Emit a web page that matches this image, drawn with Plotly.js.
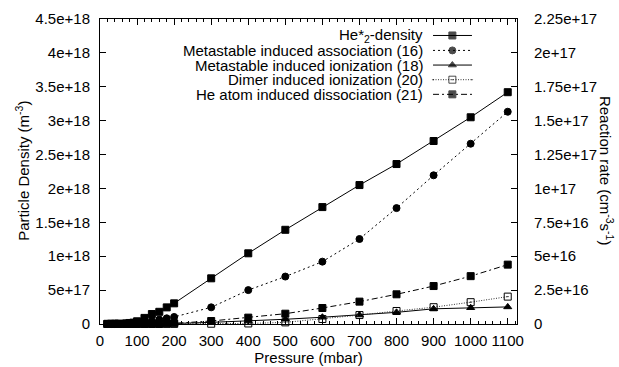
<!DOCTYPE html>
<html>
<head>
<meta charset="utf-8">
<script src="https://cdn.plot.ly/plotly-3.0.1.min.js"></script>
<style>html,body{margin:0;padding:0;background:#fff;}#chart{width:619px;height:367px;}</style>
</head>
<body>
<div id="chart"></div>
<script>
// ---- data ----
const pressure = [20,30,40,50,70,80,90,100,120,140,160,180,200,300,400,500,600,700,800,900,1000,1100];
// He*2 density, units 1e18 m^-3 (left axis)
const he2Density = [0.003,0.004,0.005,0.006,0.01,0.015,0.02,0.04,0.09,0.147,0.18,0.245,0.305,0.674,1.043,1.39,1.725,2.05,2.36,2.70,3.05,3.42];
// reaction rates, units 1e17 cm^-3 s^-1 (right axis)
const assoc16 = [0,0,0,0,0.002,0.003,0.005,0.008,0.015,0.024,0.033,0.042,0.052,0.123,0.25,0.35,0.46,0.627,0.855,1.097,1.33,1.566];
const ioniz18 = [0,0,0,0,0,0,0,0.001,0.001,0.002,0.002,0.003,0.004,0.012,0.022,0.035,0.05,0.066,0.086,0.112,0.12,0.126];
const dimer20 = [0,0,0,0,0,0,0,0,0,0,0,0.001,0.001,0.002,0.004,0.012,0.037,0.066,0.096,0.124,0.161,0.202];
const heAtom21 = [0,0,0,0,0,0,0,0.001,0.001,0.002,0.003,0.004,0.005,0.022,0.047,0.076,0.118,0.165,0.219,0.28,0.353,0.438];

const seriesNames = ["He*<sub>2</sub>-density","Metastable induced association (16)","Metastable induced ionization (18)","Dimer induced ionization (20)","He atom induced dissociation (21)"];

const leftTickVals = [0,0.5e18,1e18,1.5e18,2e18,2.5e18,3e18,3.5e18,4e18,4.5e18];
const leftTickText = ["0","5e+17","1e+18","1.5e+18","2e+18","2.5e+18","3e+18","3.5e+18","4e+18","4.5e+18"];
const rightTickVals = [0,2.5e16,5e16,7.5e16,1e17,1.25e17,1.5e17,1.75e17,2e17,2.25e17];
const rightTickText = ["0","2.5e+16","5e+16","7.5e+16","1e+17","1.25e+17","1.5e+17","1.75e+17","2e+17","2.25e+17"];
const xTickVals = [0,100,200,300,400,500,600,700,800,900,1000,1100];

// ---- styles ----
const FONT = "Liberation Sans, Arial, Helvetica, sans-serif";
const FS = 15;
const styles = [
  {dash:"solid", color:"#000", sym:"square", size:7, yaxis:"y", scale:1e18, data:he2Density},
  {dash:"2px,3px", color:"#000", sym:"circle", size:7, yaxis:"y2", scale:1e17, data:assoc16},
  {dash:"solid", color:"#000", sym:"triangle-up", size:7, yaxis:"y2", scale:1e17, data:ioniz18},
  {dash:"1px,1.5px", color:"#333", sym:"square-open-dot", size:7, yaxis:"y2", scale:1e17, data:dimer20},
  {dash:"6px,3px,2px,3px", color:"#000", sym:"square", size:7, yaxis:"y2", scale:1e17, data:heAtom21}
];

const traces = styles.map((s,i)=>({
  type:"scatter", mode:"lines+markers", name:seriesNames[i],
  x:pressure, y:s.data.map(v=>v*s.scale), yaxis:s.yaxis, xaxis:"x",
  line:{color:s.color, width:1, dash:s.dash},
  marker:{symbol:s.sym, size:s.size, color:"#000", line:{color:"#000", width:1}},
  showlegend:false, cliponaxis:false
}));

// ---- custom gnuplot-style legend (text right, sample left) ----
const legRowY = [0.946,0.897,0.849,0.801,0.753];
const legX0 = 0.7986, legX1 = 0.892, legXM = 0.845, legTextX = 0.779;
const annotations = [];
styles.forEach((s,i)=>{
  traces.push({
    type:"scatter", mode:"lines+markers", xaxis:"x2", yaxis:"y3",
    x:[legX0,legXM,legX1], y:[legRowY[i],legRowY[i],legRowY[i]],
    line:{color:s.color, width:1, dash:s.dash},
    marker:{symbol:s.sym, size:[0,s.size,0], color:"#000", line:{color:"#000", width:1}},
    showlegend:false, hoverinfo:"skip", cliponaxis:false
  });
  annotations.push({xref:"paper", yref:"paper", x:legTextX, y:legRowY[i], xanchor:"right", yanchor:"middle",
    text:seriesNames[i], showarrow:false, font:{family:FONT, size:FS, color:"#000"}});
});
annotations.push({xref:"paper", yref:"paper", x:-0.185, y:0.502, textangle:-90, xanchor:"center", yanchor:"middle",
  text:"Particle Density (m<sup>-3</sup>)", showarrow:false, font:{family:FONT, size:FS, color:"#000"}});
annotations.push({xref:"paper", yref:"paper", x:1.2134, y:0.502, textangle:90, xanchor:"center", yanchor:"middle",
  text:"Reaction rate (cm<sup>-3</sup>s<sup>-1</sup>)", showarrow:false, font:{family:FONT, size:FS, color:"#000"}});

const layout = {
  width:619, height:367,
  margin:{l:100, r:102, t:19, b:43, pad:0},
  paper_bgcolor:"#fff", plot_bgcolor:"#fff",
  font:{family:FONT, size:FS, color:"#000"},
  showlegend:false,
  xaxis:{range:[0,1125], tickvals:xTickVals, ticktext:xTickVals.map(String),
    ticks:"inside", ticklen:6, tickwidth:1, tickcolor:"#000",
    minor:{dtick:20, tick0:0, ticks:"inside", ticklen:3, tickwidth:1, tickcolor:"#000"},
    showline:true, linecolor:"#000", linewidth:1, mirror:"ticks",
    showgrid:false, zeroline:false, ticklabelstandoff:3,
    title:{text:"Pressure (mbar)", font:{family:FONT, size:FS}, standoff:3}},
  yaxis:{range:[0,4.5e18], tickvals:leftTickVals, ticktext:leftTickText,
    ticks:"inside", ticklen:6, tickwidth:1, tickcolor:"#000",
    showline:true, linecolor:"#000", linewidth:1, showgrid:false, zeroline:false,
    ticklabelstandoff:6},
  yaxis2:{range:[0,2.25e17], tickvals:rightTickVals, ticktext:rightTickText, overlaying:"y", side:"right",
    ticks:"inside", ticklen:6, tickwidth:1, tickcolor:"#000",
    showline:true, linecolor:"#000", linewidth:1, showgrid:false, zeroline:false,
    ticklabelstandoff:13},
  xaxis2:{overlaying:"x", range:[0,1], visible:false, anchor:"y3"},
  yaxis3:{overlaying:"y", range:[0,1], visible:false, anchor:"x2"},
  annotations:annotations
};

Plotly.newPlot("chart", traces, layout, {displayModeBar:false, staticPlot:true});
</script>
</body>
</html>
